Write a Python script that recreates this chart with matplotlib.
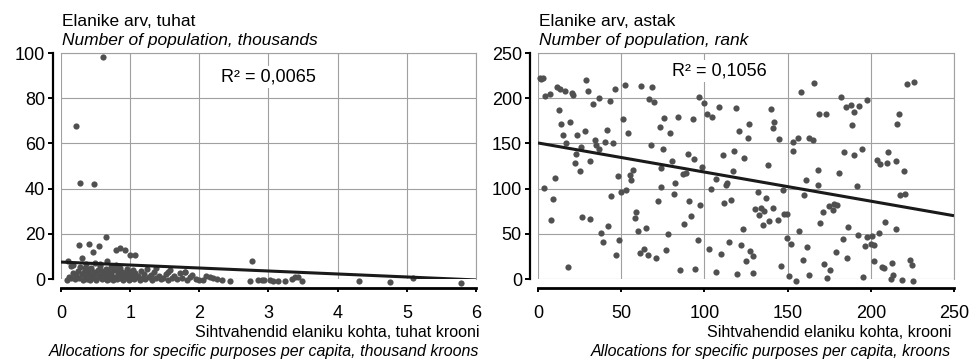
"""
Two scatter charts: population vs allocations per capita (absolute and rank)
"""
import numpy as np
import matplotlib
matplotlib.use("Agg")
import matplotlib.pyplot as plt

plt.rcParams['font.family'] = ['Liberation Sans', 'DejaVu Sans']

# left chart: allocations (thousand kroons) vs population (thousands)
left_x = [0.61, 0.22, 0.28, 0.48, 0.65, 0.265, 0.40, 0.55, 0.46, 0.79, 0.86, 0.93,
          1.00, 1.07, 0.30, 2.76, 0.10, 0.67, 0.14, 1.79, 1.55,
          0.09, 0.12, 0.15, 0.18, 0.20, 0.22, 0.24, 0.26, 0.28, 0.30, 0.18,
          0.32, 0.33, 0.35, 0.36, 0.38, 0.40, 0.41, 0.42, 0.44, 0.45, 0.47, 0.48, 0.49, 0.34, 0.39,
          0.50, 0.51, 0.53, 0.55, 0.56, 0.58, 0.59, 0.60, 0.62, 0.63, 0.65, 0.66, 0.68, 0.69, 0.70, 0.57,
          0.72, 0.73, 0.75, 0.76, 0.78, 0.80, 0.81, 0.82, 0.84, 0.85, 0.87, 0.88, 0.90, 0.74, 0.86,
          0.92, 0.93, 0.95, 0.97, 0.98, 1.00, 1.02, 1.03, 1.05, 1.07, 1.09, 0.96, 1.04,
          1.12, 1.14, 1.16, 1.18, 1.20, 1.22, 1.25, 1.27, 1.30, 1.32, 1.35, 1.37, 1.38,
          1.42, 1.45, 1.48, 1.52, 1.55, 1.58, 1.60, 1.64, 1.68, 1.72, 1.75, 1.80, 1.82, 1.86, 1.90,
          1.95, 2.00, 2.05, 2.10, 2.15, 2.20, 2.25, 2.33, 2.44,
          2.73, 2.85, 2.90, 2.93, 3.02, 3.07, 3.14, 3.24, 3.34, 3.38, 3.42, 3.48,
          4.31, 4.75, 5.09, 5.79]
left_y = [98.2, 67.6, 42.6, 41.9, 18.6, 15.2, 15.7, 14.8, 12.0, 13.0, 13.5, 12.7,
          10.4, 10.4, 9.3, 8.1, 8.1, 8.1, 5.7, 3.2, 3.2,
          -0.5, 1.0, 0.3, 2.5, -0.2, 1.8, 3.5, 0.5, 5.2, 2.0, 6.0,
          -0.4, 3.0, 1.2, 6.5, 0.2, 4.4, 2.2, -0.3, 5.0, 1.5, 3.3, 0.4, 7.0, 4.8, 2.8,
          -0.5, 2.6, 4.0, 0.8, 5.8, 1.9, -0.2, 3.6, 0.6, 2.3, 4.5, -0.4, 1.4, 3.0, 0.1, 6.8,
          5.3, 2.0, -0.3, 3.8, 1.0, 6.2, -0.1, 2.7, 4.3, 0.5, 1.7, 3.2, -0.4, 0.8, 5.0,
          2.1, 0.3, 4.6, 1.2, -0.5, 3.0, 0.6, 1.9, -0.2, 2.8, 0.9, 3.6, 4.2,
          1.5, -0.3, 3.4, 0.4, 2.0, -0.1, 4.6, 0.8, 1.6, -0.4, 3.0, 0.3, 5.0,
          1.2, -0.2, 0.6, 2.0, -0.3, 3.8, 0.5, 1.5, -0.1, 2.6, 0.3, 3.3, -0.4, 0.8, 1.6,
          0.2, -0.5, -0.3, 1.5, 0.9, 0.4, -0.2, -0.3, -0.7,
          -0.7, -0.4, -0.4, -0.6, -0.4, -0.7, -0.7, -0.7, -0.1, 1.0, 0.7, -0.7,
          -0.7, -1.2, 0.3, -1.6]
left_trend = (7.5, -1.32)   # intercept, slope
left_r2 = "R\u00b2 = 0,0065"

# right chart: allocations (kroons) vs population rank
right_x = [1, 2, 3, 4.4, 7, 11.4, 13.4, 16, 20.5, 21, 29, 30, 33, 36.5, 43, 46, 52,
           62, 68.5, 166, 222, 226, 67, 97, 158, 182,
           70, 100, 109, 119, 140, 185, 188, 193, 190, 198, 169, 173,
           12.8, 101.6, 104.6, 75.6, 84, 93, 51, 217, 19, 13.6, 189, 216,
           127, 121, 142, 141.5, 15, 23.7, 41.5, 73.6, 79.6, 54,
           126, 145, 153, 156, 163, 165, 17, 28, 34, 40, 45, 35, 36.5,
           68, 75, 194.5, 26, 23, 22, 25, 31.5, 90, 94, 80.5, 74, 87, 89,
           111, 118, 124, 153, 184, 190, 204, 205.6, 210.5, 209.5, 215, 220,
           98.6, 138, 10, 48, 55, 57, 117, 161, 168, 181, 107,
           3.4, 8.8, 8, 26.5, 31.3, 38, 39, 42, 44, 17.8,
           47, 48.7, 50, 53, 56, 58, 59, 60, 61, 64, 65, 66, 71,
           72, 74, 77, 78, 82, 82.6, 85.6, 88, 91, 92, 94.6, 96, 97.6,
           102.7, 104, 107, 110, 112, 112.7, 113.7, 114.7, 116,
           119.7, 122, 123, 124.7, 127.7, 129.3, 129.3,
           130.7, 132, 133, 134.3, 135.7, 135, 137, 139, 141, 144, 146, 147, 148, 149.4,
           149.8, 151, 152, 154.8, 156.8, 159.4, 160, 161.8, 163,
           168, 169.4, 171, 172, 173.8, 175.4, 175, 177, 178, 179.6, 179, 183, 185.7, 186.5,
           191.5, 192.5, 195.5, 196.5, 197.5, 200, 201, 202, 202, 205, 207, 208, 208.5,
           212, 212.5, 213.5, 215, 217.5, 220.5, 219, 223.5, 225, 225.3]
right_y = [222, 221, 222, 202, 205, 212, 210, 208, 206, 204, 220.6, 208.5, 194, 200, 197.4, 210, 214.7,
           214, 212.5, 217, 216, 218, 199, 201.5, 207, 201,
           196, 195, 190.5, 189.5, 188, 190, 192, 191, 185, 198.5, 182.7, 183,
           186.4, 182.7, 179.4, 177.6, 179.4, 176.5, 177, 182, 174, 171.7, 170, 171.6,
           172, 164, 174, 167, 159.6, 159.6, 165, 167.7, 161.8, 161.8,
           156, 155, 151.5, 156, 156, 154, 150, 164, 154, 151.5, 150, 148, 143.5,
           148, 144, 144, 146, 138, 128, 120, 130, 138, 133, 130.5, 122.5, 116, 117,
           137.5, 142, 134, 142, 140.5, 137, 132, 127, 140.5, 128.5, 130.5, 119,
           124, 126, 112, 114, 115, 120.6, 119.6, 110, 121, 117, 111,
           100.7, 88.6, 65, 68.6, 66.4, 51, 41, 59, 91.5, 13.3,
           26.6, 43.5, 96.3, 99, 109, 67.5, 74, 53, 29, 33, 56.5, 26, 23,
           86.7, 102, 31.7, 50, 94.5, 106, 10, 61, 86, 70, 11, 43, 82,
           33.6, 99.6, 7.7, 28, 84, 104, 106, 41, 87.8,
           5.5, 38, 55, 20, 31, 25.5, 6.6,
           77.5, 96, 71, 78.6, 75.6, 60, 89.7, 64, 78.6, 65.7, 14.8, 98, 72, 72,
           45, 3, 39, -1.8, 52.8, 21.4, 92.6, 35.4, 4.8,
           104, 62, 74, 17, 1, 9.6, 81, 76.7, 83, 82, 30, 44, 23, 57.6,
           102.6, 49, 2, 36, 47, 39, 48, 38, 19.6, 51, 13.3, 12, 63,
           0, 17.7, 4.8, 55, 93, 94, -0.7, 21.4, 15.9, -2.6]
right_trend = (150.5, -0.322)
right_r2 = "R\u00b2 = 0,1056"

W, H = 979, 360
fig = plt.figure(figsize=(W / 100, H / 100), dpi=100)

def setup(ax, xmax, ymax, xstep, ystep):
    ax.set_xlim(0, xmax)
    ax.set_ylim(0, ymax)
    ax.set_xticks(np.arange(0, xmax + 0.001, xstep))
    ax.set_yticks(np.arange(0, ymax + 0.001, ystep))
    ax.grid(True, color='#a0a0a0', lw=0.8)
    ax.set_axisbelow(True)
    for s in ['top', 'right']:
        ax.spines[s].set_color('#a0a0a0')
        ax.spines[s].set_linewidth(0.8)
    ax.spines['left'].set_position(('outward', 6))
    ax.spines['left'].set_bounds(0, ymax)
    ax.spines['left'].set_linewidth(1.6)
    ax.spines['bottom'].set_position(('outward', 6.5))
    ax.spines['bottom'].set_bounds(0, xmax)
    ax.spines['bottom'].set_linewidth(2.0)
    ax.tick_params(axis='y', direction='out', length=3.6, width=1.4, pad=2, labelsize=13)
    ax.tick_params(axis='x', direction='out', length=3, width=1.4, pad=9, labelsize=13)

panels = [
    (61, 415, left_x, left_y, left_trend, left_r2, 6, 100, 1, 20, (3.0, 89.5)),
    (538, 416, right_x, right_y, right_trend, right_r2, 250, 250, 50, 50, (109, 229.8)),
]
for x0, w, xs, ys, trend, r2, xmax, ymax, xstep, ystep, r2pos in panels:
    ax = fig.add_axes([x0 / W, 1 - 279 / H, w / W, 226 / H])
    setup(ax, xmax, ymax, xstep, ystep)
    ax.scatter(xs, ys, s=20, color='#505050', linewidths=0, zorder=3, clip_on=False)
    tx = np.array([0, xmax])
    ax.plot(tx, trend[0] + trend[1] * tx, color='#1a1a1a', lw=2.2, zorder=4,
            solid_capstyle='butt')
    ax.text(r2pos[0], r2pos[1], r2, ha='center', va='center', fontsize=13, zorder=5,
            bbox=dict(boxstyle='square,pad=0.15', fc='white', ec='none'))

# axis titles
fig.text(62 / W, 1 - 26 / H, "Elanike arv, tuhat", fontsize=12.5, va='baseline')
fig.text(62 / W, 1 - 45 / H, "Number of population, thousands", fontsize=12.5,
         style='italic', va='baseline')
fig.text(539 / W, 1 - 26 / H, "Elanike arv, astak", fontsize=12.5, va='baseline')
fig.text(539 / W, 1 - 45 / H, "Number of population, rank", fontsize=12.5,
         style='italic', va='baseline')

fig.text(480 / W, 1 - 337 / H, "Sihtvahendid elaniku kohta, tuhat krooni", fontsize=11.5,
         ha='right', va='baseline')
fig.text(479 / W, 1 - 356 / H, "Allocations for specific purposes per capita, thousand kroons",
         fontsize=11.5, style='italic', ha='right', va='baseline')
fig.text(951 / W, 1 - 337 / H, "Sihtvahendid elaniku kohta, krooni", fontsize=11.5,
         ha='right', va='baseline')
fig.text(951 / W, 1 - 356 / H, "Allocations for specific purposes per capita, kroons",
         fontsize=11.5, style='italic', ha='right', va='baseline')

fig.savefig("out.png", dpi=100)
